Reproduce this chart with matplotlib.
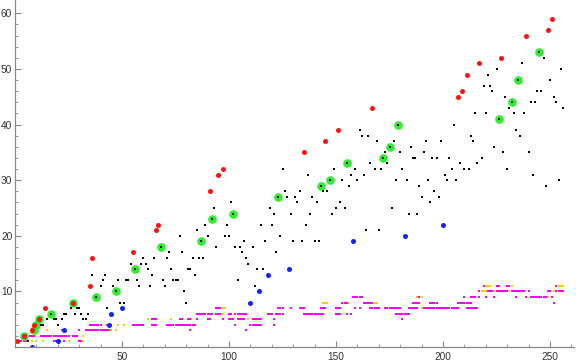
import matplotlib

matplotlib.use("Agg")
import matplotlib.pyplot as plt

plt.rcParams["font.family"] = ["Liberation Sans", "DejaVu Sans"]

# black points (x, y)
black_x = [5, 6, 12, 13, 15, 18, 19, 20, 22, 23, 24, 26, 28, 29, 30, 31, 32, 33, 34,
           36, 40, 41, 42, 43, 46, 48, 49, 51, 52, 53, 54, 57, 58, 59, 60, 61, 62, 63, 64, 65,
           69, 70, 71, 72, 73, 74, 75, 76, 77, 78, 79, 80, 81, 82, 83, 84, 85, 86, 88, 89, 90,
           93, 94, 96, 98, 99, 100, 101, 103, 104, 105, 106, 107, 108, 109, 111, 112, 113,
           115, 116, 117, 119, 120, 121, 122, 124, 125, 126, 127, 129, 130, 131, 132, 133,
           134, 136, 137, 138, 139, 140, 141, 142, 144, 146, 148, 149, 150, 152, 153, 154,
           156, 157, 159, 160, 161, 162, 163, 164, 165, 166, 168, 169, 170, 171, 173, 174,
           176, 177, 178, 180, 181, 183, 184, 185, 186, 187, 188, 189, 190, 191, 192, 193,
           194, 195, 196, 197, 198, 199, 201, 202, 203, 204, 205, 206, 208, 210, 212, 213,
           214, 215, 216, 218, 219, 220, 221, 222, 223, 224, 225, 228, 229, 230, 231, 233,
           234, 236, 237, 238, 240, 241, 242, 243, 244, 246, 247, 248, 250, 252, 253, 254,
           255, 256]
black_y = [2, 1, 4, 4, 5, 5, 5, 4, 5, 6, 6, 7, 6, 7, 7, 6, 5, 5, 6,
           13, 11, 12, 13, 7, 11, 12, 8, 8, 12, 12, 15, 12, 11, 15, 16, 15, 14, 11, 13, 16,
           12, 11, 16, 17, 14, 12, 12, 12, 20, 17, 10, 8, 14, 14, 16, 13, 21, 16, 16, 22, 20,
           25, 18, 31, 20, 22, 20, 26, 18, 12, 18, 17, 19, 16, 15, 18, 11, 14,
           22, 14, 19, 25, 22, 24, 17, 20, 32, 28, 27, 24, 19, 27, 26, 28,
           19, 22, 31, 24, 27, 19, 26, 19, 28, 28, 24, 32, 25, 26, 30, 25,
           29, 31, 32, 30, 39, 38, 31, 21, 38, 33, 32, 37, 21, 32, 35, 33,
           25, 37, 30, 35, 32, 30, 24, 36, 34, 34, 24, 29, 27, 35, 37, 30,
           26, 34, 28, 34, 27, 37, 31, 30, 34, 32, 40, 30, 33, 32, 32, 38,
           37, 42, 33, 34, 47, 42, 49, 47, 46, 36, 50, 35, 45, 32, 43, 42,
           39, 38, 51, 42, 35, 44, 31, 44, 46, 46, 52, 29, 48, 45, 44, 30,
           50, 43]

green_x = [4, 9, 10, 11, 17, 27, 38, 47, 56, 68, 87, 92, 102, 123, 143, 147, 155,
           172, 175, 179, 226, 232, 235, 245]
green_y = [2, 3, 4, 5, 6, 8, 9, 10, 14, 18, 19, 23, 24, 27, 29, 30, 33,
           34, 36, 40, 41, 44, 48, 53]

red_x = [1, 4, 8, 9, 11, 14, 27, 35, 36, 55, 66, 67, 91, 95, 97, 135, 145, 151,
         167, 207, 209, 211, 217, 227, 239, 249, 251]
red_y = [1, 2, 3, 4, 5, 7, 8, 11, 16, 17, 21, 22, 28, 31, 32, 35, 37, 39,
         43, 45, 46, 49, 51, 52, 56, 57, 59]

blue_x = [8, 20, 23, 44, 45, 50, 110, 114, 118, 128, 158, 182, 200]
blue_y = [0, 1, 3, 4, 6, 7, 8, 10, 13, 14, 19, 20, 22]

# low series, x positions grouped by value
magenta_rows = {
    1: [0, 1, 2, 3, 4, 5, 18, 19, 20, 21, 23, 30, 31],
    2: [7, 8, 9, 12, 13, 14, 15, 16, 17, 18, 19, 20, 21, 22, 23, 24, 25, 27, 28, 29],
    3: [22, 30, 33, 34, 35, 36, 37, 38, 39, 40, 41, 42, 43, 44, 82, 108],
    4: [35, 36, 37, 38, 39, 40, 43, 44, 45, 55, 56, 57, 58, 59, 60, 64, 65, 66, 71, 72,
        73, 74, 75, 76, 77, 78, 79, 80, 81, 82, 83, 84, 103, 110, 111, 112, 113, 114,
        115, 121],
    5: [64, 65, 66, 77, 78, 81, 82, 85, 90, 91, 97, 100, 101, 102, 104, 105, 106, 107,
        111, 112, 113, 114, 115, 121, 181],
    6: [85, 86, 87, 88, 89, 90, 91, 92, 94, 95, 96, 100, 101, 103, 104, 105, 106, 107,
        108, 118, 119, 120, 122, 123, 124, 125, 135, 136, 137, 138, 139, 140, 141, 142,
        143, 144, 150, 151, 152, 155, 157, 178, 179, 180, 181, 182, 183, 184],
    7: [94, 95, 96, 123, 124, 125, 129, 133, 134, 135, 143, 144, 145, 150, 151, 152,
        159, 161, 166, 167, 168, 169, 170, 173, 174, 175, 176, 177, 178, 179, 180, 184,
        185, 186, 187, 188, 191, 192, 193, 194, 195, 196, 197, 198, 199, 200, 201, 202,
        203, 204, 205, 206, 207, 211, 212, 213, 214, 215, 216],
    8: [153, 154, 155, 163, 164, 165, 166, 167, 186, 187, 188, 189, 194, 195, 196, 197,
        207, 208, 209, 210, 211, 212, 213, 252],
    9: [158, 159, 160, 161, 162, 189, 210, 213, 214, 215, 217, 220, 224, 234, 239, 241,
        242, 243, 244, 245, 246, 247, 248, 251],
    10: [217, 221, 222, 223, 225, 226, 227, 228, 229, 230, 232, 233, 234, 235, 236, 237,
         238, 240, 249, 250, 253, 254, 255, 256],
    11: [219, 225, 226, 230, 231, 253],
}
yellow_rows = {
    1: [8, 10, 13, 25, 32],
    2: [7, 27, 32],
    3: [15, 40, 45, 47],
    4: [36, 48, 51, 59, 83, 84, 113],
    5: [62, 73, 109, 113],
    6: [87, 97, 107, 118, 138, 139, 140, 183],
    7: [97, 98, 143, 144, 145, 169, 170, 190, 200, 215],
    8: [144, 145, 146, 156, 168, 169, 187, 195, 208, 213],
    9: [161, 188, 190, 214, 215, 249],
    10: [218, 219, 220, 224, 231, 236, 252, 253],
    11: [220, 221, 222, 226, 232, 254, 255, 256],
}

fig = plt.figure(figsize=(5.76, 3.64), dpi=100)
ax = fig.add_axes([15 / 576, 17 / 364, 559 / 576, 347 / 364])

for level, xs in yellow_rows.items():
    ax.plot(xs, [level] * len(xs), "s", color="#ffcc00", markersize=1.6, markeredgewidth=0)
for level, xs in magenta_rows.items():
    ax.plot(xs, [level] * len(xs), "s", color="#ff00ff", markersize=1.6, markeredgewidth=0)

ax.plot(green_x, green_y, "o", color="#22ee22", markersize=6.2, markeredgewidth=0, alpha=0.95)
ax.plot(green_x, green_y, "s", color="black", markersize=1.6, markeredgewidth=0)
ax.plot(black_x, black_y, "s", color="black", markersize=1.6, markeredgewidth=0)
ax.plot(red_x, red_y, "o", color="#ff1111", markersize=3.6, markeredgewidth=0)
ax.plot(blue_x, blue_y, "o", color="#1122ff", markersize=3.6, markeredgewidth=0)

ax.set_xlim(0, 261.2)
ax.set_ylim(0, 62.4)
ax.set_xticks([50, 100, 150, 200, 250])
ax.set_xticks(range(10, 261, 10), minor=True)
ax.set_yticks([10, 20, 30, 40, 50, 60])
ax.set_yticks(range(2, 62, 2), minor=True)

for side in ("top", "right"):
    ax.spines[side].set_visible(False)
for side in ("left", "bottom"):
    ax.spines[side].set_color("#888888")
    ax.spines[side].set_linewidth(0.9)
ax.tick_params(which="both", direction="in", color="#888888", labelcolor="#333333",
               labelsize=7.3)
ax.tick_params(which="major", length=4, width=0.8)
ax.tick_params(which="minor", length=2, width=0.6)
ax.tick_params(axis="y", pad=2)
ax.tick_params(axis="x", pad=3.5)

fig.savefig("out.png", dpi=100)
